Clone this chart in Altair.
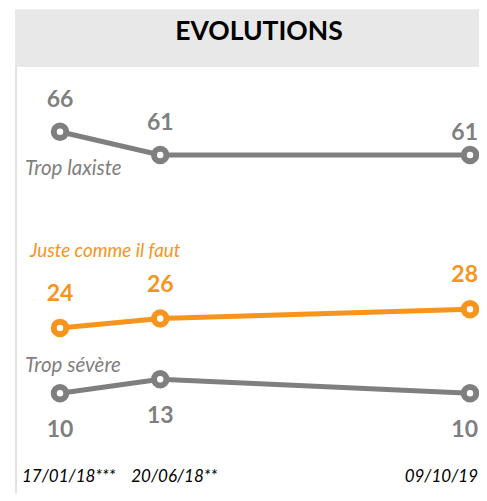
import altair as alt
import pandas as pd

dates = ["2018-01-17", "2018-06-20", "2019-10-09"]
date_labels = ["17/01/18***", "20/06/18**", "09/10/19"]
series = ["Trop laxiste", "Juste comme il faut", "Trop sévère"]
trop_laxiste = [66, 61, 61]
juste_comme_il_faut = [24, 26, 28]
trop_severe = [10, 13, 10]
title_text = "EVOLUTIONS"

GREY = "#7f7f7f"
ORANGE = "#f7941d"
FONT = "Lato"

rows = []
for s, vals in zip(series, [trop_laxiste, juste_comme_il_faut, trop_severe]):
    for i, (d, v) in enumerate(zip(dates, vals)):
        rows.append({"serie": s, "date": d, "idx": i, "valeur": v})
df = pd.DataFrame(rows)
dates_df = pd.DataFrame({"date": dates, "label": date_labels, "idx": list(range(len(dates)))})
title_df = pd.DataFrame({"t": [title_text]})
last = len(dates) - 1

x = alt.X("date:T", scale=alt.Scale(range=[52, 462], nice=False), axis=None)
y = alt.Y("valeur:Q", scale=alt.Scale(domain=[10, 66], range=[385.3, 123.7], zero=False, nice=False), axis=None)
color = alt.Color("serie:N", scale=alt.Scale(domain=series, range=[GREY, ORANGE, GREY]), legend=None)
stroke = alt.Stroke("serie:N", scale=alt.Scale(domain=series, range=[GREY, ORANGE, GREY]), legend=None)

base = alt.Chart(df)

band = alt.Chart(title_df).mark_rect(color="#e8e8e8").encode(
    x=alt.value(7), x2=alt.value(471), y=alt.value(1.3), y2=alt.value(59))
title = alt.Chart(title_df).mark_text(font=FONT, fontWeight="bold", fontSize=26.5, align="center",
                                      baseline="alphabetic", color="#000000").encode(
    x=alt.value(251), y=alt.value(31.5), text="t:N")
border = alt.Chart(title_df).mark_rule(color="#d9d9d9", strokeWidth=1.5).encode(
    x=alt.value(8), y=alt.value(59), y2=alt.value(485))

line = base.mark_line(strokeWidth=5).encode(x=x, y=y, color=color)
points = base.mark_point(shape="circle", size=156, strokeWidth=6, opacity=1).encode(
    x=x, y=y, stroke=stroke, fill=alt.value("white"))


def value_labels(cond, dy, align="center", dx=0):
    return base.mark_text(font=FONT, fontWeight="bold", fontSize=23, baseline="middle",
                          align=align, dx=dx, dy=dy).encode(
        x=x, y=y, text="valeur:Q", color=color).transform_filter(cond)


first_two = alt.datum.idx < last
is_last = alt.datum.idx == last
v1 = value_labels((alt.datum.serie == series[0]) & first_two, -32)
v2 = value_labels((alt.datum.serie == series[0]) & is_last, -22.5, "right", 8)
v3 = value_labels((alt.datum.serie == series[1]) & first_two, -34)
v4 = value_labels((alt.datum.serie == series[1]) & is_last, -34, "right", 8)
v5 = value_labels((alt.datum.serie == series[2]) & first_two, 37)
v6 = value_labels((alt.datum.serie == series[2]) & is_last, 37, "right", 8)


def series_label(name, dx, dy, size):
    return base.mark_text(font=FONT, fontStyle="italic", fontSize=size, align="left",
                          baseline="alphabetic", dx=dx, dy=dy).encode(
        x=x, y=y, text="serie:N", color=color).transform_filter(
        (alt.datum.serie == name) & (alt.datum.idx == 0))


s1 = series_label(series[0], -35, 43.3, 20.5)
s2 = series_label(series[1], -30, -71, 18.8)
s3 = series_label(series[2], -35, -21.6, 20.5)


def date_label(k, align, dx):
    return alt.Chart(dates_df).mark_text(font=FONT, fontStyle="italic", fontSize=17, align=align,
                                         baseline="alphabetic", dx=dx, color="#000000").encode(
        x=x, y=alt.value(473.7), text="label:N").transform_filter(alt.datum.idx == k)


d1 = date_label(0, "left", -38)
d2 = date_label(1, "left", -29)
d3 = date_label(2, "right", 8)

chart = alt.layer(band, title, border, line, points, v1, v2, v3, v4, v5, v6, s1, s2, s3, d1, d2, d3).properties(
    width=471, height=485, padding=0, autosize="none"
).configure_view(stroke=None)

chart.save("out.html", embed_options={"renderer": "svg", "actions": False})
